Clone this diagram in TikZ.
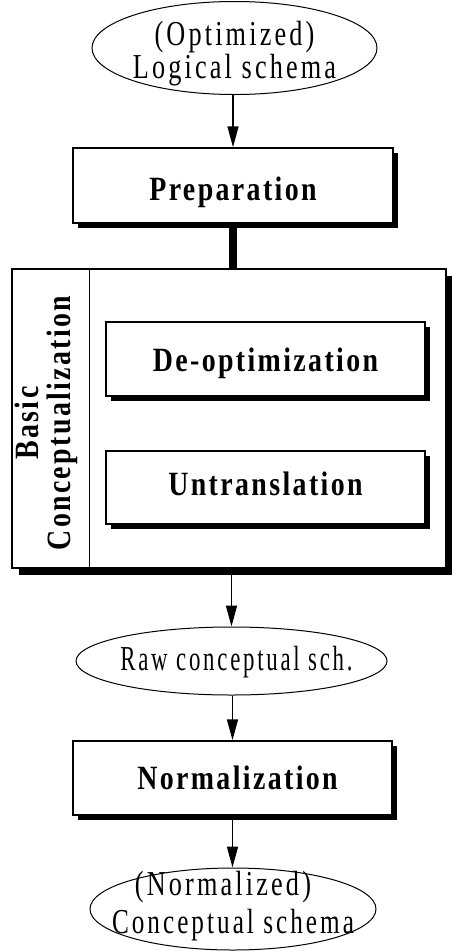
\documentclass[tikz,border=0pt]{standalone}
\usepackage{fontspec}
\setmainfont{Liberation Serif}
\newfontfamily\regf{Liberation Serif}[FakeStretch=0.75,LetterSpace=9]
\newfontfamily\bldf{Liberation Serif}[FakeStretch=0.82,LetterSpace=7]
\usetikzlibrary{shadows,arrows.meta,shapes.geometric}
\newcommand\shiftbase[2]{\makebox[0pt]{\raisebox{#1}[0pt][0pt]{#2}}}
\begin{document}
\begin{tikzpicture}[x=1pt,y=-1pt,
  shadowed/.style={drop shadow={shadow xshift=#1,shadow yshift=-#1,fill=black,opacity=1}},
  stepbox/.style={draw,line width=1.5pt,fill=white,rectangle,inner sep=0pt,
    minimum width=319pt,minimum height=74pt,shadowed=5pt,
    font=\bldf\bfseries\fontsize{34}{34}\selectfont},
  data/.style={draw,line width=1pt,fill=white,ellipse,inner sep=0pt,
    font=\regf\fontsize{35}{28}\selectfont},
  arr/.style={line width=1.6pt,-{Triangle[length=21pt,width=11pt]}}]
\useasboundingbox (0,0) rectangle (451,951);

% top ellipse
\node[data,minimum width=285pt,minimum height=93pt] (opt) at (234.5,48)
  {\shiftbase{-30pt}{\begin{tabular}[b]{@{}c@{}}(Optimized)\\Logical schema\end{tabular}}};

% Preparation
\node[stepbox,minimum width=320pt,minimum height=75pt] (prep) at (233,185.5)
  {\shiftbase{-14.5pt}{Preparation}};

% Basic conceptualization container
\node[draw,line width=1.5pt,fill=white,rectangle,inner sep=0pt,
  minimum width=434pt,minimum height=299pt,shadowed=7pt] (basic) at (229,418.5) {};
\draw[line width=1.5pt] ([xshift=78pt]basic.north west) -- ([xshift=78pt]basic.south west);
\node[rotate=90,inner sep=0pt,font=\bldf\bfseries\fontsize{34}{28}\selectfont] (bclabel) at (51,423)
  {\shiftbase{-19pt}{\begin{tabular}[b]{@{}c@{}}Basic\\Conceptualization\end{tabular}}};

\node[stepbox] (deopt) at (265.5,359) {\shiftbase{-12pt}{De-optimization}};
\node[stepbox,minimum height=73pt] (untr) at (265.5,487.5) {\shiftbase{-7.5pt}{Untranslation}};

% Raw conceptual schema
\node[data,minimum width=311pt,minimum height=68pt] (raw) at (231.5,661)
  {\shiftbase{-9pt}{\hspace*{10pt}\scalebox{0.87}[1]{Raw conceptual sch.}}};

% Normalization
\node[stepbox] (norm) at (232.5,778) {\shiftbase{-11pt}{\hspace*{10pt}Normalization}};

% bottom ellipse
\node[data,minimum width=286pt,minimum height=82pt] (final) at (233,909)
  {\shiftbase{-24pt}{\begin{tabular}[b]{@{}c@{}}(Normalized)\hspace*{20pt}\\[5pt]\scalebox{0.96}[1]{Conceptual schema}\end{tabular}}};

% connectors
\draw[arr] (opt.south -| prep.north) -- (prep.north);
\draw[line width=8pt] (prep.south) -- (prep.south |- basic.north);
\draw[arr] (raw.north |- basic.south) -- (raw.north);
\draw[arr] (raw.south -| norm.north) -- (norm.north);
\draw[arr] (norm.south) -- (norm.south |- final.north);
\end{tikzpicture}
\end{document}
